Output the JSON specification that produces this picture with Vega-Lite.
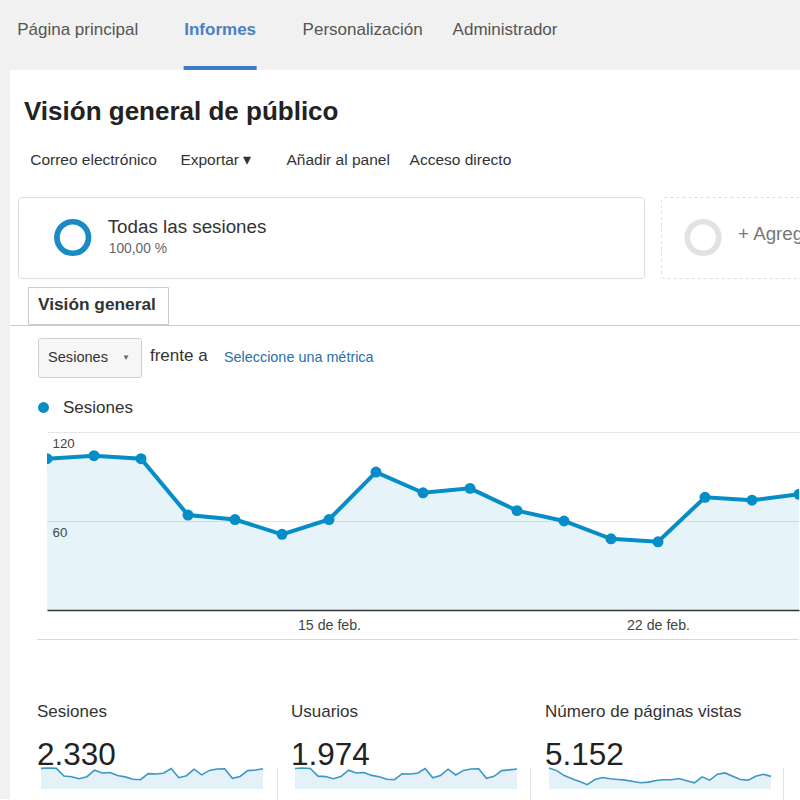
{
"$schema":"https://vega.github.io/schema/vega-lite/v6.json",
"background":"#ffffff",
"padding":0,
"autosize":{"type":"pad"},
"config":{"view":{"stroke":null},"font":"Liberation Sans","concat":{"spacing":0}},
"datasets":{"diario":[
{"fecha":"2015-02-09","serie":"Sesiones","sesiones":102,"usuarios":86,"paginas":338},
{"fecha":"2015-02-10","serie":"Sesiones","sesiones":104,"usuarios":88,"paginas":296},
{"fecha":"2015-02-11","serie":"Sesiones","sesiones":102,"usuarios":86,"paginas":216},
{"fecha":"2015-02-12","serie":"Sesiones","sesiones":64,"usuarios":54,"paginas":164},
{"fecha":"2015-02-13","serie":"Sesiones","sesiones":61,"usuarios":52,"paginas":121},
{"fecha":"2015-02-14","serie":"Sesiones","sesiones":51,"usuarios":43,"paginas":69},
{"fecha":"2015-02-15","serie":"Sesiones","sesiones":61,"usuarios":52,"paginas":153},
{"fecha":"2015-02-16","serie":"Sesiones","sesiones":93,"usuarios":79,"paginas":185},
{"fecha":"2015-02-17","serie":"Sesiones","sesiones":79,"usuarios":67,"paginas":164},
{"fecha":"2015-02-18","serie":"Sesiones","sesiones":82,"usuarios":69,"paginas":153},
{"fecha":"2015-02-19","serie":"Sesiones","sesiones":67,"usuarios":57,"paginas":143},
{"fecha":"2015-02-20","serie":"Sesiones","sesiones":60,"usuarios":51,"paginas":121},
{"fecha":"2015-02-21","serie":"Sesiones","sesiones":48,"usuarios":41,"paginas":100},
{"fecha":"2015-02-22","serie":"Sesiones","sesiones":46,"usuarios":39,"paginas":111},
{"fecha":"2015-02-23","serie":"Sesiones","sesiones":76,"usuarios":64,"paginas":137},
{"fecha":"2015-02-24","serie":"Sesiones","sesiones":74,"usuarios":63,"paginas":148},
{"fecha":"2015-02-25","serie":"Sesiones","sesiones":78,"usuarios":66,"paginas":148},
{"fecha":"2015-02-26","serie":"Sesiones","sesiones":101,"usuarios":86,"paginas":169},
{"fecha":"2015-02-27","serie":"Sesiones","sesiones":56,"usuarios":47,"paginas":132},
{"fecha":"2015-02-28","serie":"Sesiones","sesiones":66,"usuarios":56,"paginas":100},
{"fecha":"2015-03-01","serie":"Sesiones","sesiones":98,"usuarios":83,"paginas":195},
{"fecha":"2015-03-02","serie":"Sesiones","sesiones":70,"usuarios":59,"paginas":143},
{"fecha":"2015-03-03","serie":"Sesiones","sesiones":92,"usuarios":78,"paginas":238},
{"fecha":"2015-03-04","serie":"Sesiones","sesiones":99,"usuarios":84,"paginas":259},
{"fecha":"2015-03-05","serie":"Sesiones","sesiones":100,"usuarios":85,"paginas":206},
{"fecha":"2015-03-06","serie":"Sesiones","sesiones":53,"usuarios":45,"paginas":153},
{"fecha":"2015-03-07","serie":"Sesiones","sesiones":62,"usuarios":53,"paginas":143},
{"fecha":"2015-03-08","serie":"Sesiones","sesiones":91,"usuarios":77,"paginas":206},
{"fecha":"2015-03-09","serie":"Sesiones","sesiones":94,"usuarios":80,"paginas":238},
{"fecha":"2015-03-10","serie":"Sesiones","sesiones":100,"usuarios":84,"paginas":203}
]},
"spacing":0,
"resolve":{"legend":{"color":"independent"}},
"vconcat":[
{
"width":800,"height":70,
"view":{"fill":"#f1f1f1"},
"data":{"values":[{"item":"Página principal"},{"item":"Informes"},{"item":"Personalización"},{"item":"Administrador"}]},
"encoding":{"x":{"field":"item","type":"nominal","axis":null,"scale":{"type":"point","domain":["Página principal","Informes","Personalización","Administrador","·"],"padding":0.808,"align":0.3375}}},
"layer":[
{"transform":[{"filter":"datum.item !== 'Informes'"}],"mark":{"type":"text","fontSize":17,"color":"#555555","dy":-5},"encoding":{"text":{"field":"item"}}},
{"transform":[{"filter":"datum.item === 'Informes'"}],"mark":{"type":"text","fontSize":17,"fontWeight":"bold","color":"#4a7fc1","dy":-5},"encoding":{"text":{"field":"item"}}},
{"transform":[{"filter":"datum.item === 'Informes'"}],"mark":{"type":"tick","orient":"horizontal","size":73,"thickness":4,"yOffset":33,"color":"#3f7bc4","opacity":1}}
]
},
{"spacing":0,"resolve":{"legend":{"color":"independent"}},"hconcat":[
{"width":10,"height":729,"view":{"fill":"#f1f1f1"},"data":{"values":[]},"mark":"point"},
{"spacing":0,"resolve":{"legend":{"color":"independent"}},"vconcat":[
{"width":790,"height":65,"data":{"values":[{"t":"Visión general de público"}]},
"mark":{"type":"text","align":"left","fontSize":26,"fontWeight":"bold","color":"#222222","dy":9.5},
"encoding":{"x":{"field":"t","type":"nominal","axis":null,"scale":{"type":"point","align":0.0177}},"text":{"field":"t"}}},
{"width":790,"height":61,"data":{"values":[{"t":"Correo electrónico"},{"t":"Exportar ▾"},{"t":"Añadir al panel"},{"t":"Acceso directo"}]},
"mark":{"type":"text","fontSize":15.5,"color":"#333333","dy":-5.5},
"encoding":{"x":{"field":"t","type":"nominal","axis":null,"scale":{"type":"point","domain":["Correo electrónico","Exportar ▾","Añadir al panel","Acceso directo","·","··"],"padding":0.7295,"align":0.468}},"text":{"field":"t"}}},
{"spacing":0,"hconcat":[
{"width":7,"height":81,"data":{"values":[]},"mark":"point"},
{"width":626,"height":81,"view":{"fill":"#ffffff","stroke":"#dcdcdc","cornerRadius":3},
"layer":[
{"data":{"values":[{"k":"anillo"}]},"mark":{"type":"point","shape":"circle","filled":false,"size":995,"strokeWidth":5.7,"color":"#1b8ac4","opacity":1},
"encoding":{"x":{"field":"k","type":"nominal","axis":null,"scale":{"type":"point","align":0.0874}}}},
{"data":{"values":[{"t":"Todas las sesiones"}]},"mark":{"type":"text","align":"left","fontSize":18.8,"color":"#333333","dy":-11},
"encoding":{"x":{"field":"t","type":"nominal","axis":null,"scale":{"type":"point","align":0.1433}},"text":{"field":"t"}}},
{"data":{"values":[{"t":"100,00 %"}]},"mark":{"type":"text","align":"left","fontSize":13.8,"color":"#666666","dy":11.5},
"encoding":{"x":{"field":"t","type":"nominal","axis":null,"scale":{"type":"point","align":0.1449}},"text":{"field":"t"}}}
],
"resolve":{"scale":{"x":"independent"}}},
{"width":15,"height":81,"data":{"values":[]},"mark":"point"},
{"width":141,"height":81,"view":{"fill":"#ffffff","stroke":"#dddddd","strokeDash":[3,3],"cornerRadius":3},
"layer":[
{"data":{"values":[{"k":"anillo"}]},"mark":{"type":"point","shape":"circle","filled":false,"size":995,"strokeWidth":5.7,"color":"#e2e2e2","opacity":1},
"encoding":{"x":{"field":"k","type":"nominal","axis":null,"scale":{"type":"point","align":0.298}}}},
{"data":{"values":[{"t":"+ Agregar segmento"}]},"mark":{"type":"text","align":"left","fontSize":18.8,"color":"#777777","dy":-3.5,"clip":true},
"encoding":{"x":{"field":"t","type":"nominal","axis":null,"scale":{"type":"point","align":0.546}},"text":{"field":"t"}}}
],
"resolve":{"scale":{"x":"independent"}}}
]},
{"width":1,"height":7,"data":{"values":[]},"mark":"point"},
{"spacing":0,"hconcat":[
{"width":17,"height":37,"data":{"values":[]},"mark":"point"},
{"width":140,"height":37,"view":{"fill":"#ffffff","stroke":"#cccccc"},"data":{"values":[{"t":"Visión general"}]},
"mark":{"type":"text","align":"left","fontSize":17.3,"fontWeight":"bold","color":"#333333","dy":-1},
"encoding":{"x":{"field":"t","type":"nominal","axis":null,"scale":{"type":"point","align":0.0714}},"text":{"field":"t"}}}
]},
{"width":790,"height":1,"view":{"fill":"#cccccc"},"data":{"values":[]},"mark":"point"},
{"width":1,"height":11,"data":{"values":[]},"mark":"point"},
{"spacing":0,"hconcat":[
{"width":27,"height":39,"data":{"values":[]},"mark":"point"},
{"width":103,"height":39,"view":{"fill":"#f6f6f6","stroke":"#d0d0d0","cornerRadius":2},
"layer":[
{"data":{"values":[{"t":"Sesiones"}]},"mark":{"type":"text","align":"left","fontSize":14.6,"color":"#333333","dy":0.5},
"encoding":{"x":{"field":"t","type":"nominal","axis":null,"scale":{"type":"point","align":0.097}},"text":{"field":"t"}}},
{"data":{"values":[{"t":"▼"}]},"mark":{"type":"text","fontSize":8,"color":"#666666"},
"encoding":{"x":{"field":"t","type":"nominal","axis":null,"scale":{"type":"point","align":0.854}},"text":{"field":"t"}}}
],
"resolve":{"scale":{"x":"independent"}}},
{"width":659,"height":39,
"layer":[
{"data":{"values":[{"t":"frente a"}]},"mark":{"type":"text","align":"left","fontSize":17,"color":"#333333","dy":-1.5},
"encoding":{"x":{"field":"t","type":"nominal","axis":null,"scale":{"type":"point","align":0.0121}},"text":{"field":"t"}}},
{"data":{"values":[{"t":"Seleccione una métrica"}]},"mark":{"type":"text","align":"left","fontSize":14.4,"color":"#2a6fa8","dy":0.5},
"encoding":{"x":{"field":"t","type":"nominal","axis":null,"scale":{"type":"point","align":0.1244}},"text":{"field":"t"}}}
],
"resolve":{"scale":{"x":"independent"}}}
]},
{"width":1,"height":21,"data":{"values":[]},"mark":"point"},
{"spacing":0,"resolve":{"legend":{"color":"independent"}},"hconcat":[
{"width":25,"height":1,"data":{"values":[]},"mark":"point"},
{"width":752,"height":178,
"data":{"name":"diario"},
"transform":[{"filter":{"field":"fecha","lte":{"year":2015,"month":2,"date":25,"utc":true}}}],
"encoding":{
"x":{"field":"fecha","type":"temporal","scale":{"type":"utc","domain":[{"year":2015,"month":2,"date":9,"utc":true},{"year":2015,"month":2,"date":25,"utc":true}]},
"axis":{"values":[{"year":2015,"month":2,"date":15,"utc":true},{"year":2015,"month":2,"date":22,"utc":true}],"format":"%-d de feb.","grid":false,"ticks":false,"domainColor":"#333333","domainWidth":1.5,"labelFontSize":14.2,"labelColor":"#444444","labelPadding":8,"title":null}},
"y":{"field":"sesiones","type":"quantitative","scale":{"domain":[0,120],"nice":false},
"axis":{"values":[60,120],"grid":true,"gridColor":"#e6e6e6","domain":false,"ticks":false,"labelAlign":"left","labelBaseline":"top","labelPadding":-5,"labelOffset":4,"labelFontSize":13.3,"labelColor":"#444444","title":null}}
},
"layer":[
{"mark":{"type":"area","color":"#058dc7","opacity":0.1,"clip":true}},
{"mark":{"type":"line","color":"#058dc7","strokeWidth":4,"clip":true}},
{"mark":{"type":"point","filled":true,"size":120,"opacity":1,"clip":true},
"encoding":{"color":{"field":"serie","type":"nominal","scale":{"range":["#058dc7"]},
"legend":{"orient":"none","legendX":-12,"legendY":-33,"title":null,"labelFontSize":17,"labelColor":"#333333","symbolType":"circle","symbolSize":120,"padding":0,"labelOffset":11}}}}
]}
]},
{"width":1,"height":6,"data":{"values":[]},"mark":"point"},
{"spacing":0,"hconcat":[
{"width":27,"height":1,"data":{"values":[]},"mark":"point"},
{"width":762,"height":1,"view":{"fill":"#d9d9d9"},"data":{"values":[]},"mark":"point"}
]},
{"width":1,"height":63,"data":{"values":[]},"mark":"point"},
{"spacing":0,"hconcat":[
{"width":27,"height":1,"data":{"values":[]},"mark":"point"},
{"width":230,"height":21,"data":{"name":"diario"},
"title":{"text":"Sesiones","subtitle":"2.330","anchor":"start","fontSize":17,"fontWeight":"normal","color":"#333333","subtitleFontSize":31.5,"subtitleColor":"#222222","subtitlePadding":19,"offset":-8},
"encoding":{"x":{"field":"fecha","type":"temporal","axis":null,"scale":{"type":"utc","padding":4}},"y":{"field":"sesiones","type":"quantitative","axis":null,"scale":{"zero":true,"nice":false}}},
"layer":[{"mark":{"type":"area","color":"#e4f1f8"}},{"mark":{"type":"line","color":"#3b97c4","strokeWidth":1.6}}]},
{"width":10,"height":1,"data":{"values":[]},"mark":"point"},
{"width":1,"height":96,"view":{"fill":"#e3e3e3"},"data":{"values":[]},"mark":"point"},
{"width":13,"height":1,"data":{"values":[]},"mark":"point"},
{"width":230,"height":21,"data":{"name":"diario"},
"title":{"text":"Usuarios","subtitle":"1.974","anchor":"start","fontSize":17,"fontWeight":"normal","color":"#333333","subtitleFontSize":31.5,"subtitleColor":"#222222","subtitlePadding":19,"offset":-8},
"encoding":{"x":{"field":"fecha","type":"temporal","axis":null,"scale":{"type":"utc","padding":4}},"y":{"field":"usuarios","type":"quantitative","axis":null,"scale":{"zero":true,"nice":false}}},
"layer":[{"mark":{"type":"area","color":"#e4f1f8"}},{"mark":{"type":"line","color":"#3b97c4","strokeWidth":1.6}}]},
{"width":9,"height":1,"data":{"values":[]},"mark":"point"},
{"width":1,"height":96,"view":{"fill":"#e3e3e3"},"data":{"values":[]},"mark":"point"},
{"width":14,"height":1,"data":{"values":[]},"mark":"point"},
{"width":230,"height":21,"data":{"name":"diario"},
"title":{"text":"Número de páginas vistas","subtitle":"5.152","anchor":"start","fontSize":17,"fontWeight":"normal","color":"#333333","subtitleFontSize":31.5,"subtitleColor":"#222222","subtitlePadding":19,"offset":-8},
"encoding":{"x":{"field":"fecha","type":"temporal","axis":null,"scale":{"type":"utc","padding":4}},"y":{"field":"paginas","type":"quantitative","axis":null,"scale":{"zero":true,"nice":false}}},
"layer":[{"mark":{"type":"area","color":"#e4f1f8"}},{"mark":{"type":"line","color":"#3b97c4","strokeWidth":1.6}}]},
{"width":8,"height":1,"data":{"values":[]},"mark":"point"},
{"width":1,"height":96,"view":{"fill":"#e3e3e3"},"data":{"values":[]},"mark":"point"}
]}
]}
]}
]
}
